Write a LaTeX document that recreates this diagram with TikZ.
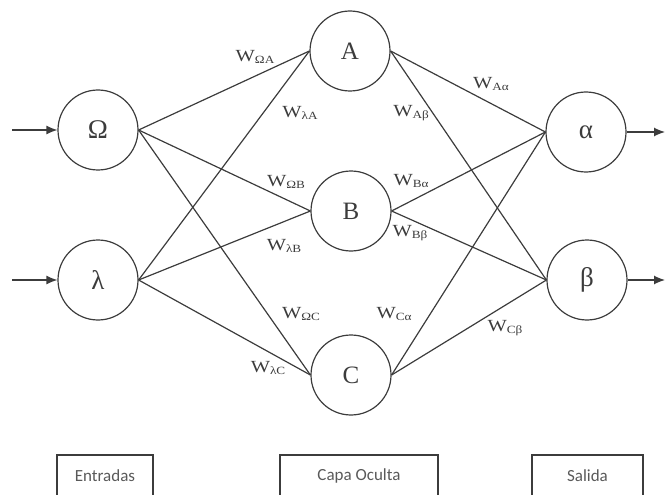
\documentclass[tikz,border=0pt]{standalone}
\usepackage{fontspec}
\setmainfont{Liberation Serif}
\newfontfamily\wfont[FakeStretch=1.2]{Liberation Serif}
\newfontfamily\boxfont{Carlito}
\usetikzlibrary{arrows.meta}
\definecolor{ink}{HTML}{3C3C3C}
% weight label: W with a lowered subscript
\newcommand{\wlab}[1]{{\wfont\fontsize{17}{17}\selectfont W\raisebox{-0.35ex}{\fontsize{11}{11}\selectfont #1}}}

\begin{document}
\begin{tikzpicture}[x=1pt,y=-1pt,
  neuron/.style={circle,draw=ink,line width=1.2pt,minimum size=80pt,inner sep=0pt,text=ink,font=\fontsize{25}{25}\selectfont},
  greek/.style={font=\fontsize{27}{27}\selectfont},
  link/.style={draw=ink,line width=1.2pt},
  io/.style={link,-{Latex[length=11pt,width=9pt]}},
  wlabel/.style={text=ink,inner sep=0pt},
  layerbox/.style={draw=ink,line width=1.4pt,minimum height=42pt,inner sep=0pt,text=ink!85,font=\boxfont\fontsize{17}{17}\selectfont}]

\useasboundingbox (0,0) rectangle (665,495);

% neurons
\node[neuron,greek] (om) at (98,130) {Ω};
\node[neuron,greek] (la) at (98,280) {λ};
\node[neuron] (A) at (350,51) {A};
\node[neuron] (B) at (351,211) {B};
\node[neuron] (C) at (351,375) {C};
\node[neuron,greek] (al) at (586,132) {α};
\node[neuron,greek] (be) at (587,280) {β};

% free ends of the input and output arrows
\coordinate (inom) at (12,130);
\coordinate (inla) at (12,280);
\coordinate (outal) at (665,132);
\coordinate (outbe) at (665,280);

\draw[io] (inom) -- (om.west);
\draw[io] (inla) -- (la.west);
\draw[io] (al.east) -- (outal);
\draw[io] (be.east) -- (outbe);

% weighted connections
\foreach \s in {om,la}
  \foreach \t in {A,B,C}
    \draw[link] (\s.east) -- (\t.west);
\foreach \s in {A,B,C}
  \foreach \t in {al,be}
    \draw[link] (\s.east) -- (\t.west);

% weight labels
\node[wlabel] (wOA) at (255,57) {\wlab{ΩA}};
\node[wlabel] (wLA) at (300,113) {\wlab{λA}};
\node[wlabel] (wAB) at (411,113) {\wlab{Aβ}};
\node[wlabel] (wAA) at (491,84) {\wlab{Aα}};
\node[wlabel] (wOB) at (286,182) {\wlab{ΩB}};
\node[wlabel] (wBA) at (411,181) {\wlab{Bα}};
\node[wlabel] (wBB) at (410,233) {\wlab{Bβ}};
\node[wlabel] (wLB) at (284,246) {\wlab{λB}};
\node[wlabel] (wOC) at (301,314) {\wlab{ΩC}};
\node[wlabel] (wCA) at (394,314) {\wlab{Cα}};
\node[wlabel] (wLC) at (268,368) {\wlab{λC}};
\node[wlabel] (wCB) at (505,328) {\wlab{Cβ}};

% layer captions
\node[layerbox,minimum width=96pt] (entradas) at (105,476) {Entradas};
\node[layerbox,minimum width=158pt] (oculta) at (359,476) {Capa Oculta};
\node[layerbox,minimum width=111pt] (salida) at (587.5,476) {Salida};
\end{tikzpicture}
\end{document}
